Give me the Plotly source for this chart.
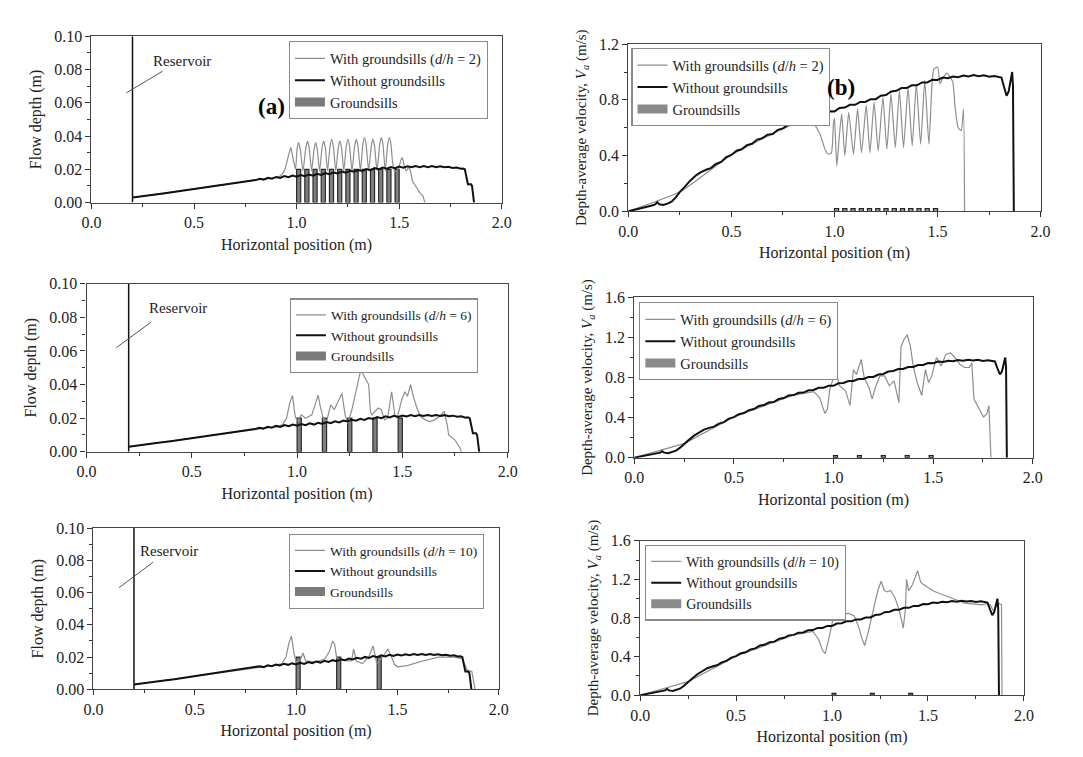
import plotly.graph_objects as go

# ---------------- data ----------------
x_tick_vals = [0.0, 0.5, 1.0, 1.5, 2.0]
x_tick_text = ["0.0", "0.5", "1.0", "1.5", "2.0"]
x_minor_vals = [0.25, 0.75, 1.25, 1.75]
depth_tick_vals = [0.00, 0.02, 0.04, 0.06, 0.08, 0.10]
depth_tick_text = ["0.00", "0.02", "0.04", "0.06", "0.08", "0.10"]
depth_minor_vals = [0.01, 0.03, 0.05, 0.07, 0.09]
vel_tick_vals = [0.0, 0.4, 0.8, 1.2, 1.6]
vel_tick_text = ["0.0", "0.4", "0.8", "1.2", "1.6"]
vel_minor_vals = [0.2, 0.6, 1.0, 1.4]

reservoir_x = [0.2, 0.2]
reservoir_y = [0.0, 0.10]

depth_without_x = [0.20, 0.25, 0.30, 0.35, 0.40, 0.45, 0.50, 0.55, 0.60, 0.65, 0.70, 0.75,
                   0.80, 0.82, 0.84, 0.86, 0.88, 0.90, 0.92, 0.94, 0.96, 0.98,
                   1.00, 1.02, 1.04, 1.06, 1.08, 1.10, 1.12, 1.14, 1.16, 1.18,
                   1.20, 1.22, 1.24, 1.26, 1.28, 1.30, 1.32, 1.34, 1.36, 1.38,
                   1.40, 1.42, 1.44, 1.46, 1.48, 1.50, 1.52, 1.54, 1.56, 1.58,
                   1.60, 1.62, 1.64, 1.66, 1.68, 1.70, 1.72, 1.74, 1.76, 1.78,
                   1.80, 1.81, 1.82, 1.835, 1.85, 1.855, 1.865]
depth_without_y = [0.0030, 0.0037, 0.0045, 0.0055, 0.0063, 0.0072, 0.0082, 0.0090, 0.0100, 0.0108, 0.0117, 0.0126,
                   0.0135, 0.0143, 0.0138, 0.0149, 0.0143, 0.0154, 0.0148, 0.0159, 0.0152, 0.0162,
                   0.0155, 0.0165, 0.0158, 0.0169, 0.0162, 0.0173, 0.0166, 0.0177, 0.0170, 0.0181,
                   0.0175, 0.0186, 0.0180, 0.0191, 0.0185, 0.0196, 0.0190, 0.0201, 0.0195, 0.0207,
                   0.0200, 0.0211, 0.0204, 0.0214, 0.0207, 0.0216, 0.0210, 0.0218, 0.0212, 0.0219,
                   0.0213, 0.0219, 0.0213, 0.0219, 0.0213, 0.0218, 0.0212, 0.0215, 0.0208, 0.0211,
                   0.0203, 0.0205, 0.0200, 0.0110, 0.0110, 0.0100, 0.0000]

depth_dh2_x = [0.20, 0.50, 0.80, 0.90, 0.92, 0.94, 0.96, 0.972, 0.985, 0.995,
               1.002, 1.010, 1.018, 1.031, 1.045, 1.053, 1.061, 1.073, 1.085, 1.093,
               1.101, 1.112, 1.124, 1.132, 1.140, 1.151, 1.163, 1.171, 1.179, 1.191,
               1.203, 1.211, 1.219, 1.230, 1.242, 1.250, 1.258, 1.270, 1.283, 1.291,
               1.299, 1.311, 1.323, 1.331, 1.339, 1.351, 1.364, 1.372, 1.380, 1.392,
               1.405, 1.413, 1.421, 1.432, 1.444, 1.452, 1.460, 1.468, 1.478, 1.490,
               1.500, 1.510, 1.515, 1.525, 1.535, 1.545, 1.555, 1.565, 1.580, 1.600,
               1.615, 1.625]
depth_dh2_y = [0.0030, 0.0082, 0.0135, 0.0150, 0.016, 0.019, 0.028, 0.033, 0.025, 0.020,
               0.032, 0.036, 0.032, 0.019, 0.033, 0.037, 0.033, 0.019, 0.032, 0.036,
               0.032, 0.019, 0.033, 0.037, 0.033, 0.019, 0.034, 0.038, 0.034, 0.019,
               0.033, 0.037, 0.033, 0.019, 0.034, 0.038, 0.034, 0.019, 0.034, 0.038,
               0.034, 0.019, 0.035, 0.039, 0.035, 0.019, 0.034, 0.038, 0.034, 0.019,
               0.035, 0.039, 0.035, 0.019, 0.035, 0.039, 0.035, 0.024, 0.019, 0.019,
               0.022, 0.026, 0.027, 0.022, 0.019, 0.021, 0.019, 0.013, 0.010, 0.006,
               0.004, 0.000]

depth_dh6_x = [0.20, 0.50, 0.80, 0.90, 0.93, 0.95, 0.965, 0.978, 0.99, 1.00,
               1.02, 1.04, 1.07, 1.09, 1.10, 1.11, 1.124, 1.14, 1.15, 1.16,
               1.176, 1.195, 1.213, 1.228, 1.24, 1.26, 1.273, 1.288, 1.303, 1.318,
               1.33, 1.34, 1.348, 1.355, 1.37, 1.385, 1.40, 1.415, 1.43, 1.44,
               1.449, 1.464, 1.475, 1.497, 1.512, 1.524, 1.539, 1.554, 1.572, 1.587,
               1.609, 1.631, 1.654, 1.676, 1.699, 1.713, 1.72, 1.75, 1.773, 1.78]
depth_dh6_y = [0.0030, 0.0082, 0.0135, 0.0150, 0.016, 0.020, 0.029, 0.0334, 0.022, 0.018,
               0.022, 0.020, 0.022, 0.030, 0.0337, 0.027, 0.020, 0.018, 0.024, 0.028,
               0.025, 0.030, 0.0347, 0.022, 0.017, 0.025, 0.032, 0.0416, 0.049, 0.045,
               0.0425, 0.040, 0.024, 0.022, 0.024, 0.026, 0.025, 0.019, 0.020, 0.028,
               0.0357, 0.022, 0.020, 0.031, 0.0357, 0.033, 0.040, 0.032, 0.025, 0.021,
               0.019, 0.018, 0.019, 0.021, 0.024, 0.016, 0.010, 0.007, 0.0024, 0.000]

depth_dh10_x = [0.20, 0.50, 0.80, 0.90, 0.93, 0.95, 0.965, 0.977, 0.99, 1.00,
                1.02, 1.034, 1.047, 1.08, 1.11, 1.14, 1.164, 1.18, 1.19, 1.20,
                1.23, 1.273, 1.284, 1.297, 1.328, 1.36, 1.38, 1.39, 1.398, 1.43,
                1.453, 1.469, 1.484, 1.50, 1.547, 1.625, 1.703, 1.78, 1.82, 1.844,
                1.867, 1.883]
depth_dh10_y = [0.0030, 0.0082, 0.0135, 0.0150, 0.016, 0.020, 0.029, 0.033, 0.022, 0.017,
                0.018, 0.0225, 0.0176, 0.017, 0.0175, 0.0186, 0.0235, 0.030, 0.028, 0.0196,
                0.018, 0.0176, 0.025, 0.0176, 0.016, 0.0206, 0.027, 0.0196, 0.016, 0.0206,
                0.025, 0.0206, 0.0157, 0.014, 0.0147, 0.0176, 0.020, 0.020, 0.019, 0.0118,
                0.011, 0.000]

vel_without_x = [0.00, 0.03, 0.06, 0.09, 0.11, 0.13, 0.14, 0.15, 0.17, 0.19,
                 0.21, 0.23, 0.25, 0.27, 0.30, 0.33, 0.35, 0.38,
                 0.400, 0.425, 0.450, 0.475, 0.500, 0.525, 0.550, 0.575, 0.600, 0.625,
                 0.650, 0.675, 0.700, 0.725, 0.750, 0.775, 0.800, 0.825, 0.850, 0.875,
                 0.900, 0.925, 0.950, 0.975, 1.000, 1.025, 1.050, 1.075, 1.100, 1.125,
                 1.150, 1.175, 1.200, 1.225, 1.250, 1.275, 1.300, 1.325, 1.350, 1.375,
                 1.400, 1.425, 1.450, 1.475, 1.500, 1.525, 1.550, 1.575, 1.600, 1.625,
                 1.650, 1.675, 1.700, 1.725, 1.750, 1.775, 1.800,
                 1.810, 1.825, 1.835, 1.845, 1.855, 1.862, 1.866, 1.870]
vel_without_y = [0.00, 0.01, 0.025, 0.03, 0.04, 0.05, 0.065, 0.05, 0.045, 0.055,
                 0.07, 0.10, 0.14, 0.17, 0.22, 0.26, 0.28, 0.30,
                 0.310, 0.340, 0.355, 0.390, 0.405, 0.435, 0.445, 0.475, 0.485, 0.515,
                 0.525, 0.550, 0.555, 0.585, 0.595, 0.620, 0.625, 0.648, 0.650, 0.672,
                 0.675, 0.697, 0.697, 0.718, 0.717, 0.742, 0.745, 0.765, 0.765, 0.785,
                 0.785, 0.805, 0.805, 0.830, 0.835, 0.860, 0.865, 0.885, 0.885, 0.905,
                 0.905, 0.925, 0.925, 0.945, 0.943, 0.960, 0.955, 0.968, 0.963, 0.975,
                 0.968, 0.978, 0.970, 0.977, 0.966, 0.972, 0.962,
                 0.960, 0.880, 0.830, 0.860, 0.950, 1.000, 0.900, 0.000]

vel_dh2_x = [0.0, 0.25, 0.5, 0.8, 0.88, 0.90, 0.93, 0.954, 0.97, 0.985,
             0.995, 1.0, 1.011, 1.023, 1.035, 1.05, 1.069, 1.092, 1.112, 1.131,
             1.154, 1.172, 1.192, 1.212, 1.235, 1.254, 1.274, 1.295, 1.315, 1.335,
             1.357, 1.377, 1.397, 1.418, 1.438, 1.458, 1.474, 1.482, 1.50, 1.512,
             1.523, 1.546, 1.562, 1.574, 1.585, 1.60, 1.615, 1.626, 1.631]
vel_dh2_y = [0.0, 0.14, 0.405, 0.625, 0.66, 0.63, 0.554, 0.446, 0.41, 0.42,
             0.63, 0.67, 0.325, 0.53, 0.70, 0.40, 0.71, 0.41, 0.735, 0.42,
             0.76, 0.42, 0.785, 0.434, 0.82, 0.446, 0.843, 0.458, 0.867, 0.458,
             0.89, 0.47, 0.916, 0.482, 0.94, 0.482, 0.94, 1.02, 1.036, 0.916,
             0.95, 0.99, 0.96, 0.93, 0.75, 0.60, 0.58, 0.735, 0.0]

vel_dh6_x = [0.0, 0.25, 0.5, 0.8, 0.90, 0.93, 0.957, 0.97, 0.981, 1.013,
             1.028, 1.06, 1.083, 1.10, 1.115, 1.139, 1.154, 1.178, 1.194, 1.21,
             1.233, 1.257, 1.28, 1.304, 1.328, 1.339, 1.354, 1.37, 1.386, 1.40,
             1.42, 1.443, 1.461, 1.477, 1.493, 1.517, 1.54, 1.564, 1.587, 1.61,
             1.635, 1.658, 1.682, 1.694, 1.705, 1.73, 1.753, 1.77, 1.78, 1.79]
vel_dh6_y = [0.0, 0.14, 0.405, 0.625, 0.66, 0.60, 0.44, 0.49, 0.68, 0.88,
             0.72, 0.67, 0.52, 0.88, 0.83, 0.98, 0.80, 0.70, 0.585, 0.70,
             0.816, 0.816, 0.717, 0.766, 0.55, 1.11, 1.18, 1.227, 1.11, 0.914,
             0.75, 0.62, 0.88, 0.75, 0.816, 1.0, 0.914, 1.03, 1.046, 1.0,
             0.93, 0.90, 0.90, 0.947, 0.585, 0.487, 0.405, 0.44, 0.52, 0.0]

vel_dh10_x = [0.0, 0.25, 0.5, 0.8, 0.90, 0.93, 0.95, 0.964, 0.983, 1.008,
              1.02, 1.03, 1.05, 1.083, 1.116, 1.14, 1.157, 1.17, 1.19, 1.215,
              1.239, 1.256, 1.272, 1.289, 1.305, 1.33, 1.351, 1.363, 1.371, 1.383,
              1.388, 1.399, 1.42, 1.446, 1.462, 1.475, 1.495, 1.528, 1.561, 1.602,
              1.644, 1.693, 1.743, 1.784, 1.81, 1.825, 1.842, 1.855, 1.872, 1.883,
              1.886]
vel_dh10_y = [0.0, 0.14, 0.405, 0.625, 0.66, 0.58, 0.465, 0.43, 0.58, 0.82,
              0.84, 0.77, 0.82, 0.85, 0.82, 0.70, 0.58, 0.515, 0.667, 0.90,
              1.087, 1.18, 1.087, 1.07, 1.087, 1.0, 0.87, 0.77, 0.694, 0.90,
              1.20, 1.08, 1.15, 1.29, 1.17, 1.15, 1.12, 1.08, 1.054, 1.02,
              0.987, 0.953, 0.943, 0.936, 0.953, 0.936, 0.87, 0.92, 0.95, 0.936,
              0.0]

sills_dh2_x = [1.01, 1.05, 1.09, 1.13, 1.17, 1.21, 1.25, 1.29, 1.33, 1.37, 1.41, 1.45, 1.49]
sills_dh2_h = [0.02, 0.02, 0.02, 0.02, 0.02, 0.02, 0.02, 0.02, 0.02, 0.02, 0.02, 0.02, 0.02]
sills_dh6_x = [1.01, 1.13, 1.25, 1.37, 1.49]
sills_dh6_h = [0.02, 0.02, 0.02, 0.02, 0.02]
sills_dh10_x = [1.01, 1.21, 1.41]
sills_dh10_h = [0.02, 0.02, 0.02]
sill_width = 0.02

ratios = ["2", "6", "10"]

# ---------------- layout geometry ----------------
W, H = 1083, 757
panels = [  # (x0px, x1px, ytop px, ybottom px)
    (83, 501, 29, 199),
    (630, 1050, 37, 208),
    (78, 507, 282, 454),
    (636, 1042, 296, 460),
    (85, 498, 532, 697),
    (642, 1033, 545, 703),
]
legend_pos = [(284, 34, 14.5), (633, 41, 14.5), (285, 297, 13.5), (641, 301, 14.5), (284, 538, 13.5), (647, 549, 14)]

SERIF = "Liberation Serif, Times New Roman, serif"
GRAY = "#8e8e8e"
BLACK = "#111111"

fig = go.Figure()

depth_sets = [(depth_dh2_x, depth_dh2_y, sills_dh2_x, sills_dh2_h),
              (depth_dh6_x, depth_dh6_y, sills_dh6_x, sills_dh6_h),
              (depth_dh10_x, depth_dh10_y, sills_dh10_x, sills_dh10_h)]
vel_sets = [(vel_dh2_x, vel_dh2_y, sills_dh2_x, sills_dh2_h),
            (vel_dh6_x, vel_dh6_y, sills_dh6_x, sills_dh6_h),
            (vel_dh10_x, vel_dh10_y, sills_dh10_x, sills_dh10_h)]

for row in range(3):
    for col in range(2):
        idx = row * 2 + col + 1
        xa = "x" if idx == 1 else f"x{idx}"
        ya = "y" if idx == 1 else f"y{idx}"
        lg = "legend" if idx == 1 else f"legend{idx}"
        if col == 0:
            gx, gy, sx, sh = depth_sets[row]
            wx, wy = depth_without_x, depth_without_y
        else:
            gx, gy, sx, sh = vel_sets[row]
            wx, wy = vel_without_x, vel_without_y
        if col == 0:
            fig.add_trace(go.Bar(x=sx, y=sh, width=sill_width, xaxis=xa, yaxis=ya,
                                 marker=dict(color="#7f7f7f", line=dict(color="#2a2a2a", width=1.2)),
                                 showlegend=False, legend=lg, hoverinfo="skip"))
        else:
            fig.add_trace(go.Bar(x=sx, y=sh, width=sill_width, xaxis=xa, yaxis=ya,
                                 marker=dict(color="#bbbbbb", line=dict(color="#222222", width=1.2),
                                             pattern=dict(shape="x", fgcolor="#333333", size=3)),
                                 showlegend=False, legend=lg, hoverinfo="skip"))
        shape = "spline" if row == 0 else "linear"
        fig.add_trace(go.Scatter(x=gx, y=gy, mode="lines", xaxis=xa, yaxis=ya, legend=lg,
                                 line=dict(color=GRAY, width=1.2, shape=shape, smoothing=0.5),
                                 name=f"With groundsills (<i>d</i>/<i>h</i> = {ratios[row]})"))
        fig.add_trace(go.Scatter(x=wx, y=wy, mode="lines", xaxis=xa, yaxis=ya, legend=lg,
                                 line=dict(color=BLACK, width=2.0),
                                 name="Without groundsills"))
        if col == 0:
            fig.add_trace(go.Scatter(x=reservoir_x, y=reservoir_y, mode="lines", xaxis=xa, yaxis=ya,
                                     line=dict(color=BLACK, width=1.5), showlegend=False, hoverinfo="skip"))
        fig.add_trace(go.Scatter(x=[None], y=[None], mode="lines", xaxis=xa, yaxis=ya, legend=lg,
                                 line=dict(color="#7a7a7a" if col == 0 else "#8a8a8a", width=9),
                                 name="Groundsills"))

layout = dict(width=W, height=H, margin=dict(l=0, r=0, t=0, b=0),
              paper_bgcolor="white", plot_bgcolor="white", showlegend=True,
              barmode="overlay", font=dict(family=SERIF, color="#222"))

for i, (x0, x1, yt, yb) in enumerate(panels):
    idx = i + 1
    col = i % 2
    xk = "xaxis" if idx == 1 else f"xaxis{idx}"
    yk = "yaxis" if idx == 1 else f"yaxis{idx}"
    ya = "y" if idx == 1 else f"y{idx}"
    xa = "x" if idx == 1 else f"x{idx}"
    layout[xk] = dict(domain=[x0 / W, x1 / W], anchor=ya, range=[0, 2],
                      tickmode="array", tickvals=x_tick_vals, ticktext=x_tick_text,
                      ticks="outside", ticklen=5, tickwidth=1, tickcolor="#333",
                      minor=dict(tickmode="array", tickvals=x_minor_vals, ticks="outside", ticklen=3,
                                 tickcolor="#333", showgrid=False),
                      showline=True, linecolor="#444", linewidth=1.2, mirror=True,
                      showgrid=False, zeroline=False,
                      tickfont=dict(family=SERIF, size=16, color="#222"),
                      title=dict(text="Horizontal position (m)", font=dict(family=SERIF, size=16, color="#222"),
                                 standoff=8))
    if col == 0:
        yr = [0, 0.10]
        tv, tt, mv = depth_tick_vals, depth_tick_text, depth_minor_vals
        ytitle = "Flow depth (m)"
    else:
        if idx == 2:
            yr = [0, 1.2]
            tv, tt, mv = vel_tick_vals[:4], vel_tick_text[:4], vel_minor_vals[:3]
        else:
            yr = [0, 1.6]
            tv, tt, mv = vel_tick_vals, vel_tick_text, vel_minor_vals
        ytitle = "Depth-average velocity, <i>V<sub>a</sub></i> (m/s)"
    layout[yk] = dict(domain=[1 - yb / H, 1 - yt / H], anchor=xa, range=yr,
                      tickmode="array", tickvals=tv, ticktext=tt,
                      ticks="outside", ticklen=5, tickwidth=1, tickcolor="#333",
                      minor=dict(tickmode="array", tickvals=mv, ticks="outside", ticklen=3,
                                 tickcolor="#333", showgrid=False),
                      showline=True, linecolor="#444", linewidth=1.2, mirror=True,
                      showgrid=False, zeroline=False,
                      tickfont=dict(family=SERIF, size=16, color="#222"),
                      title=dict(text=ytitle, font=dict(family=SERIF, size=16 if col == 0 else 15, color="#222"),
                                 standoff=8))
    lx, ly, lfs = legend_pos[i]
    lk = "legend" if idx == 1 else f"legend{idx}"
    layout[lk] = dict(x=lx / W, y=1 - ly / H, xanchor="left", yanchor="top", xref="paper", yref="paper",
                      bgcolor="white", bordercolor="#8a8a8a", borderwidth=1.2,
                      font=dict(family=SERIF, size=lfs, color="#222"),
                      tracegroupgap=0, itemwidth=30, traceorder="normal")

fig.update_layout(**layout)

res_ann = [("x", "y", 0.17, 0.066, 0.346, 0.079, 0.44, 0.085),
           ("x3", "y3", 0.142, 0.062, 0.305, 0.077, 0.436, 0.0855),
           ("x5", "y5", 0.126, 0.063, 0.294, 0.0788, 0.375, 0.086)]
for xr, yr_, sx0, sy0, sx1, sy1, tx, ty in res_ann:
    fig.add_shape(type="line", xref=xr, yref=yr_, x0=sx0, y0=sy0, x1=sx1, y1=sy1,
                  line=dict(color="#555", width=1))
    fig.add_annotation(xref=xr, yref=yr_, x=tx, y=ty, text="Reservoir", showarrow=False,
                       font=dict(family=SERIF, size=15, color="#222"))

fig.add_annotation(xref="x", yref="y", x=0.88, y=0.058, text="<b>(a)</b>", showarrow=False,
                   font=dict(family=SERIF, size=23, color="#000"))
fig.add_annotation(xref="x2", yref="y2", x=1.03, y=0.89, text="<b>(b)</b>", showarrow=False,
                   font=dict(family=SERIF, size=23, color="#000"))

fig.write_html("out.html")
